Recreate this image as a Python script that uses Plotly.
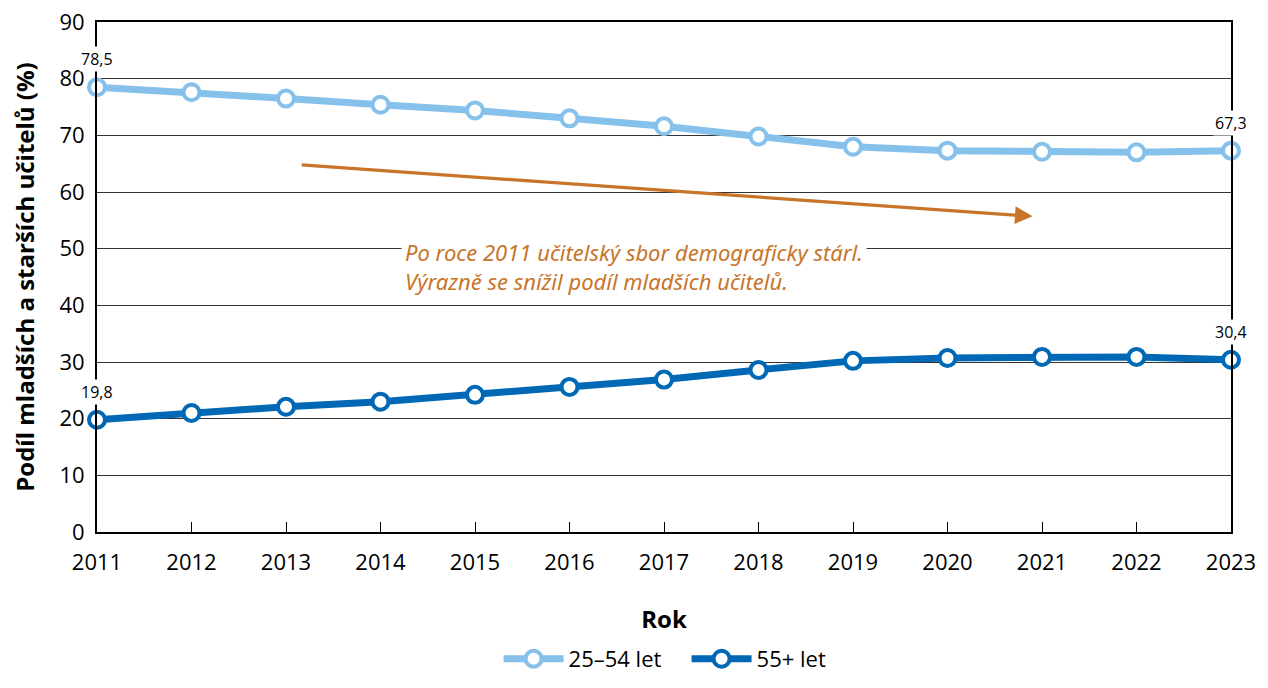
import plotly.graph_objects as go

years = [2011, 2012, 2013, 2014, 2015, 2016, 2017, 2018, 2019, 2020, 2021, 2022, 2023]
young = [78.5, 77.6, 76.5, 75.4, 74.4, 73.0, 71.6, 69.8, 68.0, 67.3, 67.1, 67.0, 67.3]
old = [19.8, 21.0, 22.1, 23.0, 24.2, 25.6, 26.9, 28.6, 30.2, 30.7, 30.9, 30.9, 30.4]
names = ["25–54 let", "55+ let"]
colors = ["#85C1EB", "#0068B4"]
ytick_vals = [0, 10, 20, 30, 40, 50, 60, 70, 80, 90]
note = "Po roce 2011 učitelský sbor demograficky stárl.<br>Výrazně se snížil podíl mladších učitelů."
arrow_from = (2013.15, 64.8)
arrow_to = (2020.9, 55.7)

FONT = "Open Sans"
fig = go.Figure()
for vals, name, col in [(young, names[0], colors[0]), (old, names[1], colors[1])]:
    fig.add_trace(go.Scatter(
        x=years, y=vals, name=name, mode="lines+markers",
        line=dict(color=col, width=7),
        marker=dict(symbol="circle", size=16, color="white", line=dict(color=col, width=4)),
        cliponaxis=False,
    ))

def fmt(v):
    return f"{v:.1f}".replace(".", ",")

for vals in (young, old):
    for i in (0, len(years) - 1):
        fig.add_annotation(x=years[i], y=vals[i], text=fmt(vals[i]), showarrow=False,
                           yshift=28, bgcolor="white", font=dict(family=FONT, size=16, color="black"),
                           xanchor="center")

fig.add_annotation(x=arrow_to[0], y=arrow_to[1], ax=arrow_from[0], ay=arrow_from[1],
                   xref="x", yref="y", axref="x", ayref="y", text="",
                   showarrow=True, arrowhead=2, arrowsize=1.1, arrowwidth=3.2, arrowcolor="#C8752A")

fig.add_annotation(x=2014.22, y=50, text=note, showarrow=False, xanchor="left", yanchor="top",
                   align="left", bgcolor="white", yshift=16, borderpad=3,
                   font=dict(family="Noto Sans", size=22, color="#C8752A", style="italic"))

fig.update_layout(
    width=1252, height=672,
    margin=dict(l=89, r=29, t=14, b=148),
    plot_bgcolor="white", paper_bgcolor="white",
    font=dict(family=FONT, size=22, color="black"),
    xaxis=dict(range=[2011, 2023], tickvals=years, showgrid=False, showline=True, mirror=True,
               linecolor="black", linewidth=2, ticks="inside", ticklen=10, tickcolor="black",
               tickfont=dict(size=22), zeroline=False, automargin=False, ticklabelstandoff=10,
               ticklabeloverflow="allow",
               title=dict(text="<b>Rok</b>", font=dict(size=24), standoff=36)),
    yaxis=dict(range=[0, 90], tickvals=ytick_vals, showgrid=True, gridcolor="#333", gridwidth=1,
               showline=True, mirror=True, linecolor="black", linewidth=2, zeroline=False,
               tickfont=dict(size=22), ticks="", automargin=False, ticklabelstandoff=6,
               ticklabeloverflow="allow",
               title=dict(text="<b>Podíl mladších a starších učitelů (%)</b>", font=dict(size=24), standoff=24)),
    legend=dict(orientation="h", x=0.542, xanchor="center", xref="container", yref="container",
                y=0.0, yanchor="bottom", entrywidth=113, entrywidthmode="pixels",
                font=dict(size=22), itemwidth=60, traceorder="normal"),
)

fig.write_html("out.html")
